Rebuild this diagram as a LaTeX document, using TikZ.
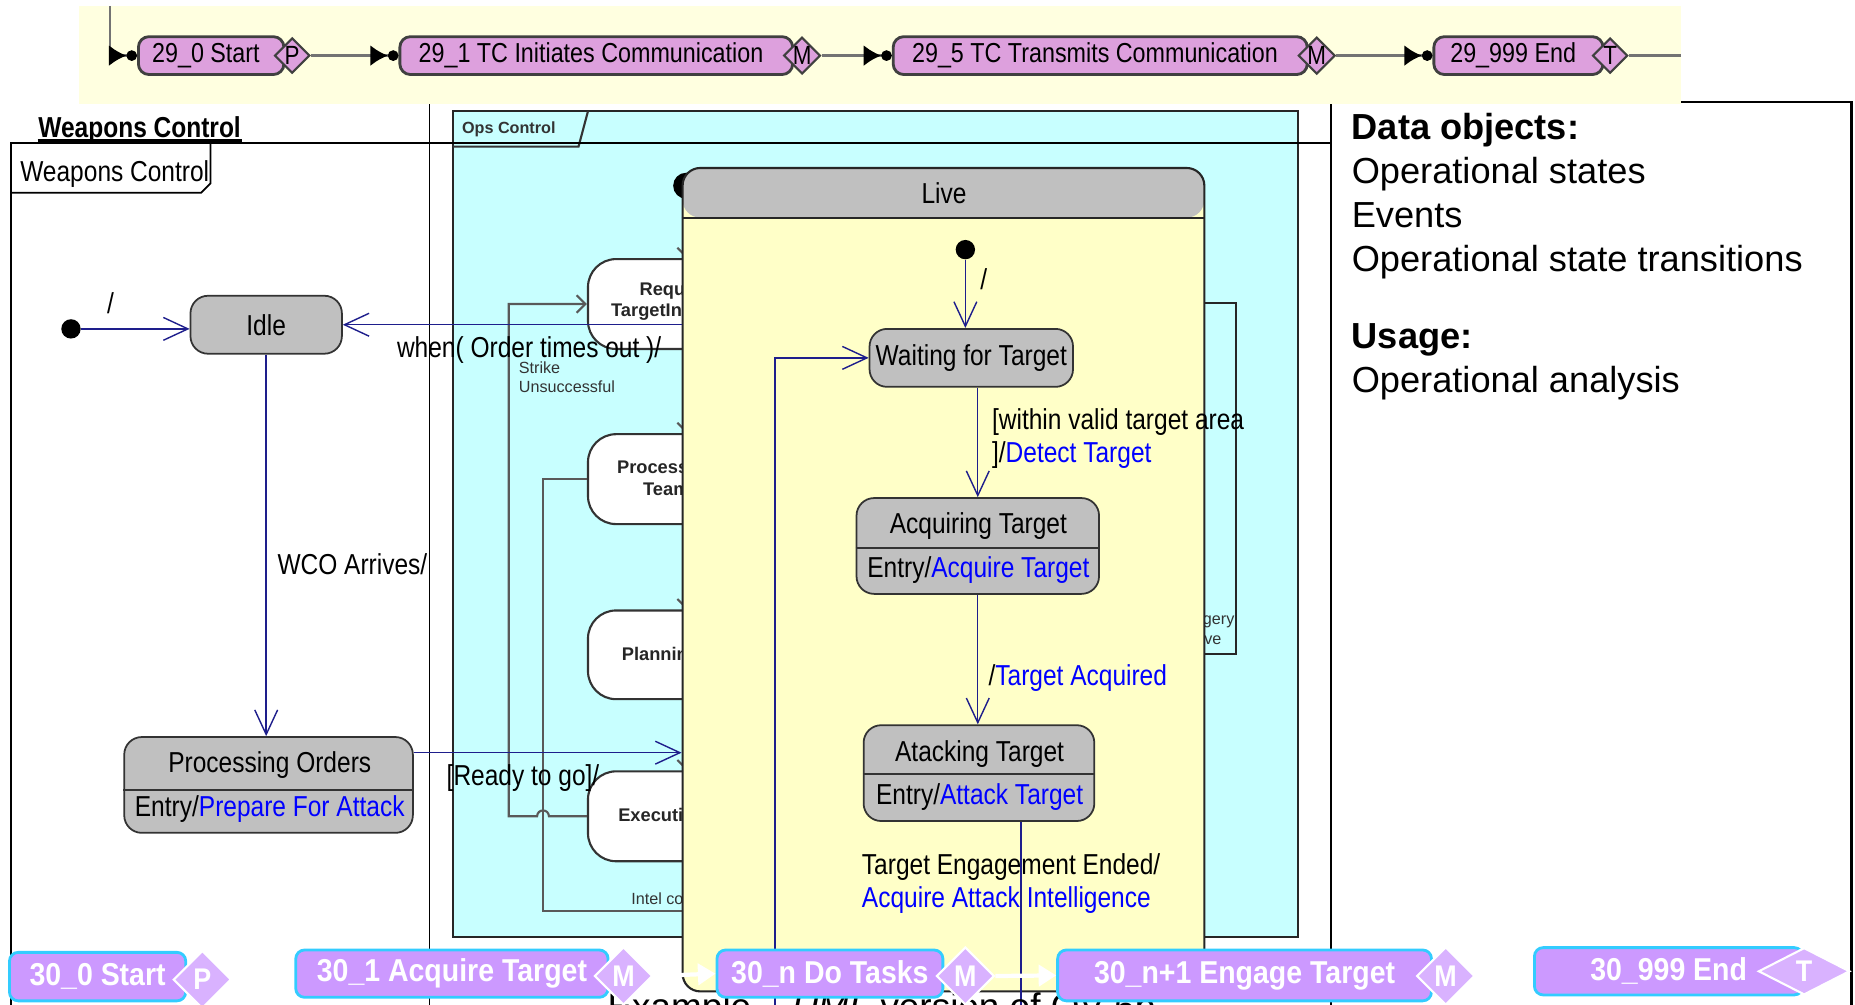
\documentclass[tikz,border=0pt]{standalone}
\usepackage{fontspec}
\setmainfont{Liberation Sans}
\newfontfamily\narrowfont{Liberation Sans}[FakeStretch=0.85]
\newfontfamily\barfont{Liberation Sans}[FakeStretch=0.9]
\usetikzlibrary{arrows.meta,shapes.geometric,positioning,calc,fit}

\definecolor{bandyellow}{RGB}{255,255,224}
\definecolor{plum}{RGB}{221,160,221}
\definecolor{opscyan}{RGB}{200,255,255}
\definecolor{liveyellow}{RGB}{255,255,200}
\definecolor{stategray}{RGB}{192,192,192}
\definecolor{umlblue}{RGB}{30,30,140}
\definecolor{actblue}{RGB}{0,0,255}
\definecolor{barpurple}{RGB}{204,153,255}
\definecolor{barcyan}{RGB}{51,204,255}

\newcommand{\umlfont}{\narrowfont\fontsize{8.2}{9.8}\selectfont}
\newcommand{\opsfont}{\fontsize{5.2}{6.2}\selectfont}

\begin{document}
\begin{tikzpicture}[
    x=0.01183cm, y=-0.01183cm,
    topbox/.style={draw=black!75, line width=0.8pt, fill=plum, rounded corners=3pt, inner sep=0pt},
    toptxt/.style={font=\narrowfont\fontsize{7.8}{9}\selectfont, inner sep=0pt, xshift=-1.5pt},
    topdmd/.style={diamond, draw=black!75, line width=0.6pt, fill=plum, inner sep=0pt, minimum width=10pt, minimum height=10pt, font=\narrowfont\fontsize{7.5}{8}\selectfont},
    toparr/.style={draw=black!55, line width=0.8pt, -{Latex[length=5pt,width=6pt,color=black] Circle[length=3pt,color=black]}},
    umlstate/.style={draw=black!80, line width=0.5pt, fill=stategray, rounded corners=5pt, inner sep=0pt},
    umltxt/.style={font=\umlfont, inner sep=0pt},
    trans/.style={draw=umlblue, line width=0.4pt, -{Straight Barb[length=7pt,width=6.5pt]}},
    umlline/.style={draw=umlblue, line width=0.4pt},
    lbl/.style={font=\umlfont, inner sep=0pt, anchor=west},
    dot/.style={circle, fill=black, inner sep=0pt, minimum size=5.5pt},
    opsstate/.style={draw=black!80, fill=white, line width=0.6pt, rounded corners=8pt, inner sep=0pt},
    opsline/.style={draw=black!65, line width=0.6pt},
    opsbarb/.style={opsline, -{Straight Barb[length=2.5pt,width=5pt]}},
    opstxt/.style={font=\bfseries\opsfont, inner sep=0pt, anchor=west, text=black!85},
    opssmall/.style={font=\fontsize{4.6}{5.4}\selectfont, inner sep=0pt, text=black!80},
    livebox/.style={draw=black!85, line width=0.6pt, fill=liveyellow, rounded corners=5pt, inner sep=0pt},
    barbox/.style={draw=barcyan, line width=0.8pt, fill=barpurple, rounded corners=2.5pt, inner sep=0pt},
    bartxt/.style={text=white, font=\barfont\bfseries\fontsize{9}{10}\selectfont, inner sep=0pt},
    bardmd/.style={diamond, draw=white, line width=0.6pt, fill=barpurple!75!white, inner sep=0pt, minimum width=16.5pt, minimum height=16.5pt, text=white, font=\barfont\bfseries\fontsize{8.5}{9}\selectfont},
    bararr/.style={draw=white, line width=1.2pt, -{Triangle[length=5pt,width=6pt]}}
]
\useasboundingbox (0,0) rectangle (1568,849.5);

\draw[line width=0.6pt] (1125,86) rectangle (1565,900);
\node[anchor=north west, inner sep=0pt, align=left, font=\fontsize{10.3}{12.5}\selectfont] (dataobj) at (1142,95)
  {\textbf{Data objects:}\\Operational states\\Events\\Operational state transitions\\[9.4pt]\textbf{Usage:}\\Operational analysis};

\fill[bandyellow] (67,5) rectangle (1421,88);
\node[topbox, fit={(117,31) (240,63)}, label={[toptxt]center:29\_0 Start}] (b290) {};
\node[topdmd] (d290) at (247,47) {P};
\node[topbox, fit={(338,31) (670,63)}, label={[toptxt]center:29\_1 TC Initiates Communication}] (b291) {};
\node[topdmd] (d291) at (678,47) {M};
\node[topbox, fit={(755,31) (1105,63)}, label={[toptxt]center:29\_5 TC Transmits Communication}] (b295) {};
\node[topdmd] (d295) at (1113,47) {M};
\node[topbox, fit={(1212,31) (1355,63)}, label={[toptxt]center:29\_999 End}] (b29e) {};
\node[topdmd] (d29e) at (1361,47) {T};
\coordinate (bandin) at (93,5);
\coordinate (bandout) at (1421,47);
\draw[toparr] (bandin) |- (b290.west);
\draw[toparr] (d290.east) -- (b291.west);
\draw[toparr] (d291.east) -- (b295.west);
\draw[toparr] (d295.east) -- (b29e.west);
\draw[draw=black!55, line width=0.8pt] (d29e.east) -- (bandout);

\draw[line width=0.5pt] (363,88) -- (363,849.5);
\node[draw=black!85, line width=0.7pt, fill=opscyan, inner sep=0pt, fit={(383,94) (1097,792)}] (ops) {};
\draw[draw=black!80, line width=0.6pt] (383,124) -- (489,124) -- (497,94);
\node[font=\bfseries\fontsize{4.6}{5.5}\selectfont, inner sep=0pt, anchor=west, text=black!80] (opsname) at (390,109) {Ops Control};
\node[dot, minimum size=7.4pt] (opsinit) at (580,157) {};
\node[opsstate, fit={(497,219) (640,295)}] (opsreq) {};
\node[opsstate, fit={(497,367) (640,443)}] (opsproc) {};
\node[opsstate, fit={(497,516) (640,591)}] (opsplan) {};
\node[opsstate, fit={(497,652) (640,728)}] (opsexec) {};
\node[opstxt] (reqa) at (540,246) {Requ};
\node[opstxt] (reqb) at (516,264) {TargetIn};
\node[opstxt] (proca) at (521,395) {Process};
\node[opstxt] (procb) at (543,414) {Team};
\node[opstxt] (plana) at (525,553) {Plannin};
\node[opstxt] (execa) at (522,689) {Executi};
\draw[opsbarb] (opsinit) -- (opsreq.north -| opsinit);
\draw[opsbarb] (opsreq.south -| opsinit) -- (opsproc.north -| opsinit);
\draw[opsbarb] (opsproc.south -| opsinit) -- (opsplan.north -| opsinit);
\draw[opsbarb] (opsplan.south -| opsinit) -- (opsexec.north -| opsinit);
\draw[opsbarb] (opsexec.west) -- (464,690) arc[start angle=0, end angle=-180, radius=5] -- (430,690) |- (opsreq.west);
\node[opssmall, anchor=north west, align=left] (strikelbl) at (438,305) {Strike\\Unsuccessful};
\coordinate (intelend) at (640,770);
\draw[opsline] (opsproc.west) -| (459,770) -- (intelend);
\node[opssmall, anchor=west] (intellbl) at (533,760) {Intel co};
\node[draw=black!85, line width=0.6pt, fill=opscyan, inner sep=0pt, fit={(990,256) (1045,553)}] (opsimg) {};
\node[opssmall, anchor=east] (imga) at (1044,526) {gery};
\node[opssmall, anchor=east] (imgb) at (1033,541) {ve};

\draw[line width=0.6pt] (9,849.5) -- (9,121) -- (1125,121) -- (1125,849.5);
\draw[line width=0.5pt] (9,163) -- (170,163) -- (178,155) -- (178,121);
\node[umltxt] (wctab) at (97,147) {Weapons Control};
\node[umltxt, font=\umlfont\bfseries, anchor=base] (wchead) at (118,116) {Weapons Control};
\draw[line width=0.9pt] (wchead.west |- 0,119) -- (wchead.east |- 0,119);

\node[livebox, fit={(577,142) (1018,838)}, path picture={\fill[stategray] (path picture bounding box.north west) rectangle ([yshift=-14.1pt]path picture bounding box.north east);}] (live) {};
\draw[draw=black!85, line width=0.6pt] (live.west |- 0,184) -- (live.east |- 0,184);
\node[umltxt] (livetitle) at (798,163) {Live};
\node[dot] (liveinit) at (816,211) {};
\node[umlstate, fit={(735,278) (907,327)}, label={[umltxt]center:Waiting for Target}] (waiting) {};
\node[umlstate, fit={(724,421) (929,502)}] (acquiring) {};
\draw[draw=black!80, line width=0.5pt] (acquiring.west |- 0,463) -- (acquiring.east |- 0,463);
\node[umltxt] (acqa) at (827,445) {Acquiring Target};
\node[umltxt] (acqb) at (827,482) {Entry/\textcolor{actblue}{Acquire Target}};
\node[umlstate, fit={(730,613) (925,694)}] (attacking) {};
\draw[draw=black!80, line width=0.5pt] (attacking.west |- 0,654) -- (attacking.east |- 0,654);
\node[umltxt] (atka) at (828,637) {Atacking Target};
\node[umltxt] (atkb) at (828,674) {Entry/\textcolor{actblue}{Attack Target}};

\draw[trans] (liveinit) -- (waiting.north -| liveinit);
\node[lbl] (slash2) at (828,236) {/};
\draw[trans] (acquiring.north |- waiting.south) -- (acquiring.north);
\node[lbl] (detecta) at (838,357) {[within valid target area};
\node[lbl] (detectb) at (838,385) {]/\textcolor{actblue}{Detect Target}};
\draw[trans] (acquiring.south) -- (attacking.north -| acquiring.south);
\node[lbl] (acqlbl) at (835,573) {/\textcolor{actblue}{Target Acquired}};
\coordinate (engend) at (863,849.5);
\draw[umlline] (attacking.south -| engend) -- (engend);
\node[lbl] (enga) at (728,733) {Target Engagement Ended/};
\node[lbl, text=actblue] (engb) at (728,761) {Acquire Attack Intelligence};
\coordinate (loopstart) at (655,849.5);
\draw[trans] (loopstart) |- (waiting.west);

\node[dot] (wcinit) at (60,278) {};
\node[umlstate, fit={(161,250) (289,299)}, label={[umltxt]center:Idle}] (idle) {};
\node[umlstate, fit={(105,623) (349,704)}] (procord) {};
\draw[draw=black!80, line width=0.5pt] (procord.west |- 0,668) -- (procord.east |- 0,668);
\node[umltxt] (proca2) at (228,647) {Processing Orders};
\node[umltxt] (procb2) at (228,684) {Entry/\textcolor{actblue}{Prepare For Attack}};
\draw[trans] (wcinit) -- (idle.west |- wcinit);
\node[lbl] (slash1) at (90,256) {/};
\draw[trans] (live.west |- idle.east) -- (idle.east);
\node[lbl] (timeout) at (335,296) {when( Order times out )/};
\draw[trans] (idle.south) -- (idle.south |- procord.north);
\node[lbl] (wco) at (234,477) {WCO Arrives/};
\coordinate (rtg) at ([yshift=-4.7pt]procord.north east);
\draw[trans] (rtg) -- (rtg -| live.west);
\node[lbl] (ready) at (377,658) {[Ready to go]/};

\node[anchor=base west, inner sep=0pt, font=\fontsize{10.5}{12}\selectfont] (caption) at (513,862) {Example – \textit{UML} version of OV-6b};

\node[barbox, fit={(8,805) (157,846)}, label={[bartxt]center:30\_0 Start}] (b300) {};
\node[bardmd] (d300) at (171,828) {P};
\node[barbox, fit={(250,803) (514,843)}, label={[bartxt]center:30\_1 Acquire Target}] (b301) {};
\node[bardmd] (d301) at (527,825) {M};
\node[barbox, fit={(606,803) (797,843)}, label={[bartxt]center:30\_n Do Tasks}] (b30n) {};
\node[bardmd] (d30n) at (816,825) {M};
\node[barbox, fit={(894,803) (1210,846)}, label={[bartxt]center:30\_n+1 Engage Target}] (b30n1) {};
\node[bardmd] (d30n1) at (1222,825) {M};
\node[barbox, fit={(1297,801) (1524,841)}, label={[bartxt]center:30\_999 End}] (b30e) {};
\node[bardmd, minimum width=26pt, minimum height=13.4pt] (d30e) at (1525,821) {T};
\draw[bararr] (d301.east) -- (b30n.west);
\draw[bararr] (d30n.east) -- (b30n1.west);
\end{tikzpicture}
\end{document}
